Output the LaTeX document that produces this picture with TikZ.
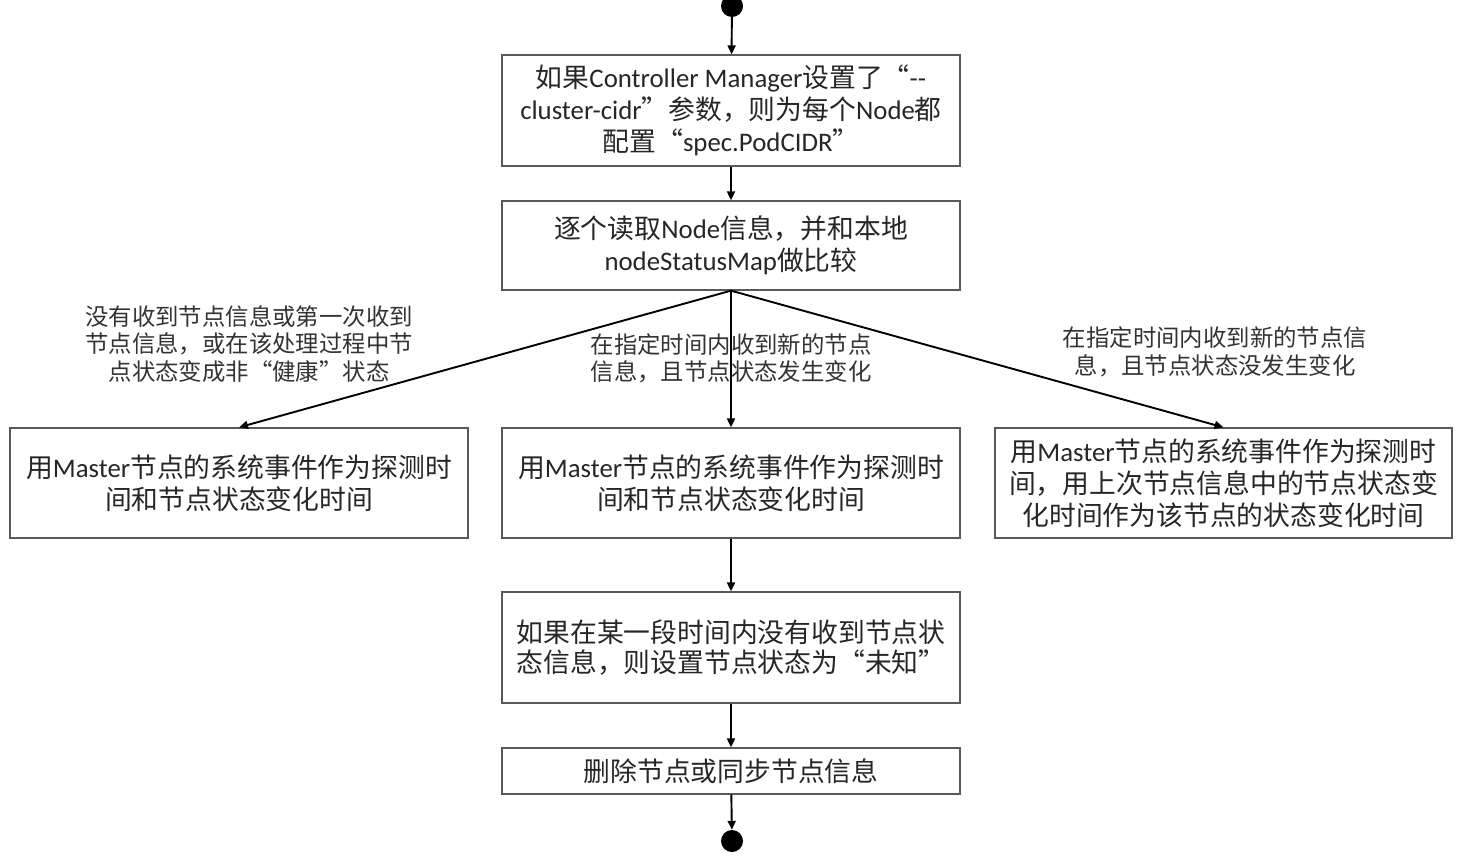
\documentclass[tikz,border=0pt]{standalone}
\usepackage{fontspec}
\setmainfont{Noto Sans CJK SC}
\newfontfamily\lat{Carlito}
\usetikzlibrary{arrows.meta}

\begin{document}
\begin{tikzpicture}[x=1pt,y=-1pt,
  txt/.style={text=black!85, font=\fontsize{26.8}{32}\selectfont, align=center},
  stepbox/.style={txt, draw=black!65, line width=1.3pt, inner sep=0pt,
    minimum width=458pt, minimum height=#1},
  stepbox/.default=111pt,
  cond/.style={text=black!80, font=\fontsize{23.4}{27.5}\selectfont, align=center, inner sep=0pt},
  flow/.style={line width=1.9pt, -{Triangle[length=9pt,width=8pt]}},
  dot/.style={circle, fill=black, inner sep=0pt, minimum size=22pt}
]
\useasboundingbox (0,0) rectangle (1464,860);

% start and end markers
\node[dot] (start) at (732,6) {};
\node[dot] (stop) at (732,841) {};

% main column
\node[stepbox] (cidr) at (731,110.5)
  {如果{\lat Controller Manager}设置了“{\lat --}\\
   {\lat cluster-cidr}”参数，则为每个{\lat Node}都\\
   配置“{\lat spec.PodCIDR}”};
\node[stepbox=89pt] (read) at (731,245.5)
  {逐个读取{\lat Node}信息，并和本地\\
   {\lat nodeStatusMap}做比较};

% three outcomes
\node[stepbox=110pt] (left) at (239,483)
  {用{\lat Master}节点的系统事件作为探测时\\间和节点状态变化时间};
\node[stepbox=110pt] (mid) at (731,483)
  {用{\lat Master}节点的系统事件作为探测时\\间和节点状态变化时间};
\node[stepbox=110pt, minimum width=457pt] (right) at (1223.5,483)
  {用{\lat Master}节点的系统事件作为探测时\\间，用上次节点信息中的节点状态变\\化时间作为该节点的状态变化时间};

\node[stepbox, font=\fontsize{26.8}{30}\selectfont] (unknown) at (731,647.5)
  {如果在某一段时间内没有收到节点状\\态信息，则设置节点状态为“未知”};
\node[stepbox=46pt] (sync) at (731,771)
  {删除节点或同步节点信息};

% connectors
\draw[flow] (start) -- (cidr);
\draw[flow] (cidr) -- (read);
\draw[flow] (read.south) -- (left.north);
\draw[flow] (read.south) -- (mid.north);
\draw[flow] (read.south) -- (right.north);
\draw[flow] (mid) -- (unknown);
\draw[flow] (unknown) -- (sync);
\draw[flow] (sync) -- (stop);

% branch conditions
\node[cond] (condL) at (249,344)
  {没有收到节点信息或第一次收到\\节点信息，或在该处理过程中节\\点状态变成非“健康”状态};
\node[cond] (condM) at (731,358.5)
  {在指定时间内收到新的节点\\信息，且节点状态发生变化};
\node[cond] (condR) at (1215,352)
  {在指定时间内收到新的节点信\\息，且节点状态没发生变化};
\end{tikzpicture}
\end{document}
